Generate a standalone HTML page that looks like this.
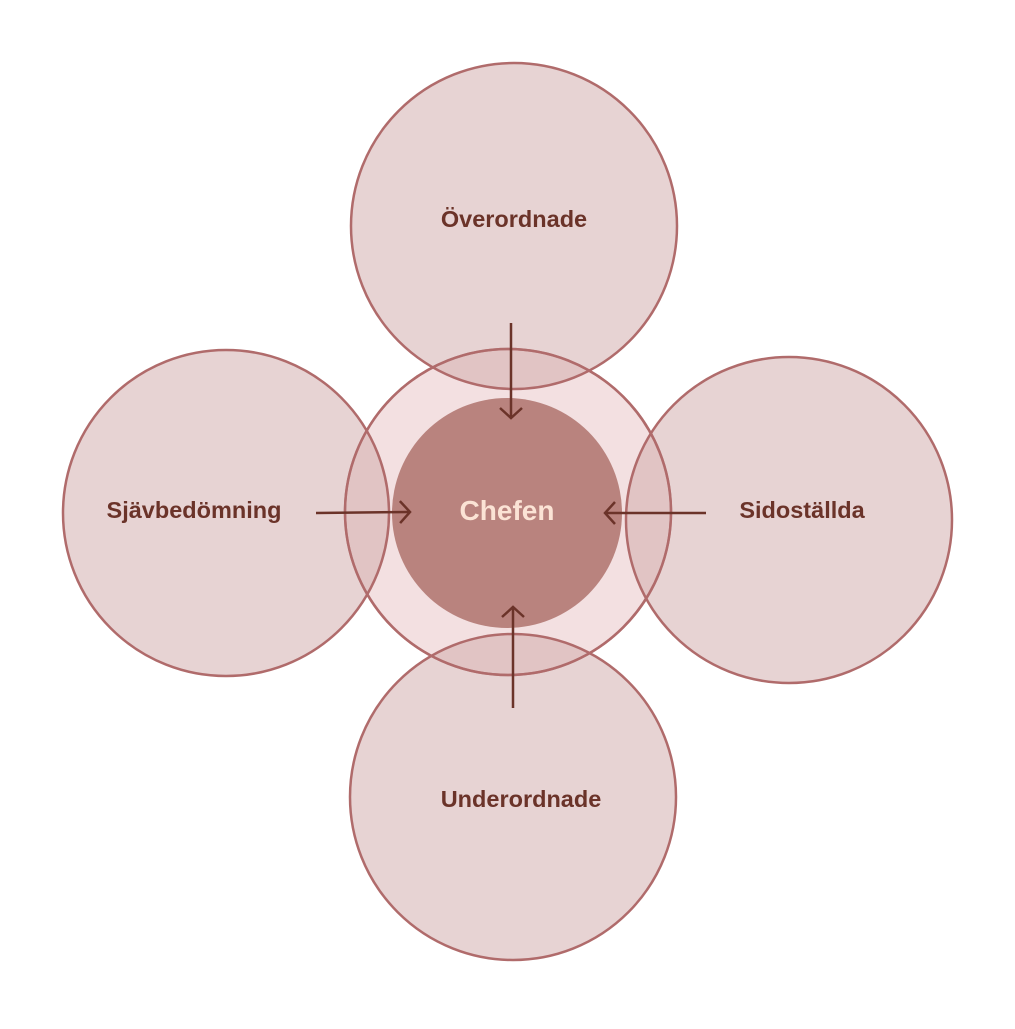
<!DOCTYPE html>
<html><head><meta charset="utf-8"><style>
html,body{margin:0;padding:0;background:#fff}
text{font-family:"Liberation Sans",sans-serif;font-weight:bold}
</style></head><body>
<svg width="1015" height="1024" viewBox="0 0 1015 1024" xmlns="http://www.w3.org/2000/svg">
<defs><marker id="a" markerWidth="16" markerHeight="24" refX="11" refY="12" orient="auto" markerUnits="userSpaceOnUse">
<path d="M1,1 L11,12 L1,23" fill="none" stroke="#6b3329" stroke-width="2.5"/></marker></defs>
<circle cx="508" cy="512" r="163" fill="#f3e0e1" stroke="#b06b6b" stroke-width="2.5"/>
<g fill="rgba(207,167,167,0.5)" stroke="#b06b6b" stroke-width="2.5">
<circle cx="514" cy="226" r="163"/>
<circle cx="226" cy="513" r="163"/>
<circle cx="789" cy="520" r="163"/>
<circle cx="513" cy="797" r="163"/>
</g>
<circle cx="508" cy="512" r="163" fill="none" stroke="#b06b6b" stroke-width="2.5"/>
<circle cx="507" cy="513" r="115" fill="#b9837e"/>
<g stroke="#6b3329" stroke-width="2.5" marker-end="url(#a)">
<line x1="511" y1="323" x2="511" y2="418"/>
<line x1="316" y1="513" x2="410" y2="512"/>
<line x1="706" y1="513" x2="605" y2="513"/>
<line x1="513" y1="708" x2="513" y2="607"/>
</g>
<g fill="#6b3329" font-size="23.5" text-anchor="middle">
<text x="514" y="227">Överordnade</text>
<text x="194" y="518">Sjävbedömning</text>
<text x="802" y="518">Sidoställda</text>
<text x="521" y="807">Underordnade</text>
</g>
<text x="507" y="520" fill="#fbe3d5" font-size="28" text-anchor="middle">Chefen</text>
</svg>
</body></html>
